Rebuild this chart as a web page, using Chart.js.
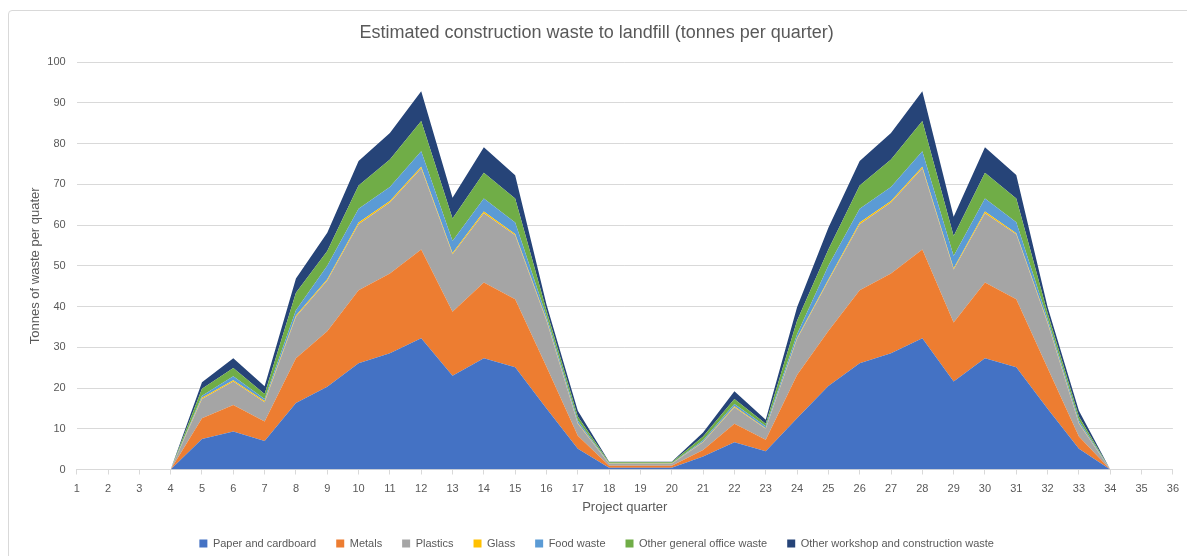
<!DOCTYPE html>
<html>
<head>
<meta charset="utf-8">
<title>Estimated construction waste to landfill</title>
<script src="https://cdn.jsdelivr.net/npm/chart.js@4.4.0/dist/chart.umd.min.js"></script>
<style>
    html, body { margin: 0; padding: 0; background: #ffffff; overflow: hidden; }
    #frame { position: absolute; left: 8px; top: 10px; width: 1200px; height: 560px; border: 1px solid #d9d9d9; border-radius: 4px; }
    #wrap { position: absolute; left: 0; top: 0; width: 1187px; height: 560px; }
</style>
</head>
<body>
<div id="frame"></div>
<div id="wrap"><canvas id="wasteChart" width="1187" height="560"></canvas></div>
<script>
// ======================================================
// DATOS (toneladas por trimestre)
// ======================================================
const quarters = ['1', '2', '3', '4', '5', '6', '7', '8', '9', '10', '11', '12',
    '13', '14', '15', '16', '17', '18', '19', '20', '21', '22', '23', '24',
    '25', '26', '27', '28', '29', '30', '31', '32', '33', '34', '35', '36'];

const seriesNames = ['Paper and cardboard', 'Metals', 'Plastics', 'Glass', 'Food waste',
    'Other general office waste', 'Other workshop and construction waste'];

const paper = [null, null, null, 0, 7.5, 9.3, 7.0, 16.3, 20.3, 26.1, 28.5, 32.2, 23.0, 27.3, 25.1, 15.0, 5.1,
    0.4, 0.4, 0.4, 3.2, 6.7, 4.5, 12.6, 20.5, 26.1, 28.5, 32.2, 21.6, 27.3, 25.1, 14.9, 5.1, 0, null, null];
const metals = [null, null, null, 0, 5.1, 6.5, 4.8, 11.0, 13.6, 17.9, 19.6, 21.8, 15.7, 18.6, 16.7, 10.2, 3.2,
    0.5, 0.5, 0.5, 1.6, 4.5, 2.8, 10.6, 13.5, 17.9, 19.6, 21.8, 14.5, 18.6, 16.7, 10.0, 3.0, 0, null, null];
const plastics = [null, null, null, 0, 4.7, 5.8, 4.7, 10.2, 12.5, 16.2, 17.4, 19.9, 14.1, 17.0, 15.7, 11.3, 2.9,
    0.5, 0.5, 0.5, 1.9, 4.1, 2.7, 8.8, 12.3, 16.2, 17.4, 19.9, 13.0, 17.0, 15.9, 11.0, 3.1, 0, null, null];
const glass = [null, null, null, 0, 0.3, 0.3, 0.3, 0.3, 0.3, 0.4, 0.4, 0.4, 0.3, 0.4, 0.3, 0.3, 0.2,
    0.05, 0.05, 0.05, 0.1, 0.2, 0.1, 0.3, 0.3, 0.4, 0.4, 0.4, 0.3, 0.4, 0.3, 0.3, 0.2, 0, null, null];
const foodWaste = [null, null, null, 0, 0.5, 1.0, 0.5, 1.3, 3.3, 3.4, 3.4, 3.8, 3.0, 3.2, 2.8, 0.8, 0.6,
    0.1, 0.1, 0.1, 0.4, 0.6, 0.5, 0.9, 3.4, 3.4, 3.4, 3.8, 3.0, 3.2, 2.7, 0.8, 0.6, 0, null, null];
const officeWaste = [null, null, null, 0, 1.7, 2.0, 1.2, 4.3, 3.6, 5.7, 6.8, 7.4, 5.5, 6.3, 5.9, 1.4, 1.0,
    0.2, 0.2, 0.2, 0.9, 1.2, 0.6, 3.3, 4.0, 5.7, 6.8, 7.4, 4.9, 6.3, 5.8, 1.4, 1.0, 0, null, null];
const workshopWaste = [null, null, null, 0, 1.6, 2.4, 1.9, 3.5, 4.5, 6.0, 6.5, 7.3, 5.1, 6.3, 5.7, 1.5, 1.4,
    0.15, 0.15, 0.15, 1.0, 1.9, 1.0, 3.3, 5.3, 6.0, 6.5, 7.3, 4.7, 6.3, 5.8, 1.5, 1.4, 0, null, null];

const seriesColors = ['#4472c4', '#ed7d31', '#a5a5a5', '#ffc000', '#5b9bd5', '#70ad47', '#264478'];

document.addEventListener('DOMContentLoaded', () => {

    // ======================================================
    // CONFIGURACIÓN
    // ======================================================
    const FONT = "'Liberation Sans', Arial, sans-serif";
    const TEXT_COLOR = '#595959';
    const GRID_COLOR = '#d9d9d9';

    Chart.defaults.font.family = FONT;
    Chart.defaults.color = TEXT_COLOR;

    const allSeries = [paper, metals, plastics, glass, foodWaste, officeWaste, workshopWaste];

    // Área apilada: la primera serie rellena hasta el eje, las demás hasta la anterior
    const datasets = allSeries.map((values, i) => ({
        label: seriesNames[i],
        data: values,
        backgroundColor: seriesColors[i],
        borderColor: seriesColors[i],
        borderWidth: 0,
        pointRadius: 0,
        tension: 0,
        fill: i === 0 ? 'origin' : '-1'
    }));

    const ctx = document.getElementById('wasteChart').getContext('2d');
    new Chart(ctx, {
        type: 'line',
        data: { labels: quarters, datasets: datasets },
        options: {
            responsive: false,
            animation: false,
            layout: { padding: { left: 20, right: 13.7, top: 12, bottom: 1 } },
            plugins: {
                title: {
                    display: true,
                    text: 'Estimated construction waste to landfill (tonnes per quarter)',
                    color: TEXT_COLOR,
                    font: { size: 18, weight: 'normal' },
                    padding: { top: 10.2, bottom: 18.2 }
                },
                legend: {
                    position: 'bottom',
                    labels: {
                        boxWidth: 8,
                        boxHeight: 8,
                        padding: 20,
                        color: TEXT_COLOR,
                        font: { size: 11 }
                    }
                },
                tooltip: { enabled: false }
            },
            scales: {
                x: {
                    offset: false,
                    grid: { drawOnChartArea: false, drawTicks: true, tickLength: 5, color: GRID_COLOR },
                    border: { color: GRID_COLOR },
                    ticks: { autoSkip: false, maxRotation: 0, padding: 8, color: TEXT_COLOR, font: { size: 11 } },
                    title: {
                        display: true,
                        text: 'Project quarter',
                        color: TEXT_COLOR,
                        font: { size: 13 },
                        padding: { top: 0, bottom: 3.2 }
                    },
                    afterFit: (scale) => { scale.height = 48.5; }
                },
                y: {
                    stacked: true,
                    min: 0,
                    max: 100,
                    ticks: { stepSize: 10, padding: 11, color: TEXT_COLOR, font: { size: 11 } },
                    grid: { color: GRID_COLOR, drawTicks: false },
                    border: { display: false },
                    title: {
                        display: true,
                        text: 'Tonnes of waste per quater',
                        color: TEXT_COLOR,
                        font: { size: 13 },
                        padding: { top: 8, bottom: 0 }
                    },
                    afterFit: (scale) => { scale.width = 56.7; }
                }
            }
        }
    });
});
</script>
</body>
</html>
